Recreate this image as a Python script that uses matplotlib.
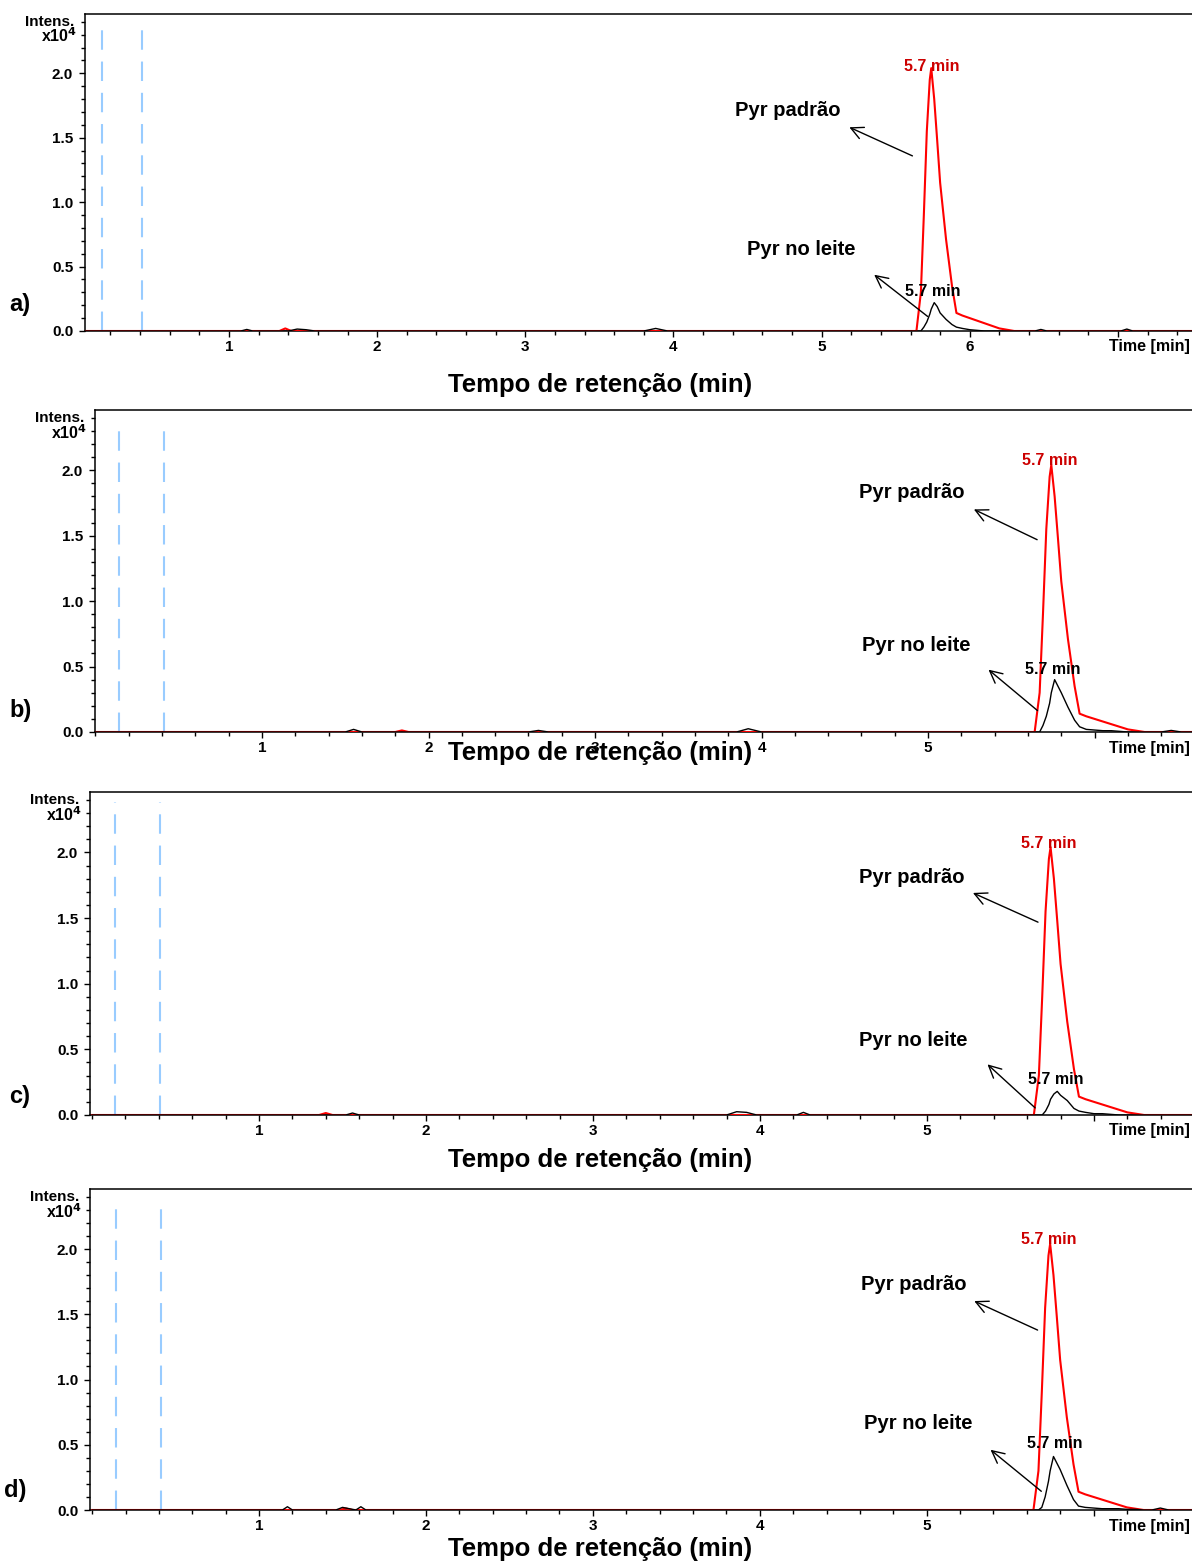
import matplotlib
matplotlib.use("Agg")
import matplotlib.pyplot as plt
from matplotlib.ticker import MultipleLocator, FixedLocator

plt.rcParams['font.family'] = ['Liberation Sans', 'DejaVu Sans']
plt.rcParams['font.weight'] = 'bold'
plt.rcParams['lines.scale_dashes'] = False

paineis = ["a)", "b)", "c)", "d)"]

# região do pico (min) e intensidades (x10^4)
t_pico = [5.60, 5.64, 5.67, 5.69, 5.71, 5.73, 5.74, 5.76, 5.78, 5.80, 5.84,
          5.88, 5.91, 5.95, 6.00, 6.05, 6.10, 6.15, 6.20, 6.25, 6.30]
padrao = [0, 0.0, 0.30, 0.90, 1.55, 1.95, 2.04, 1.80, 1.48, 1.15, 0.71,
          0.35, 0.14, 0.12, 0.10, 0.08, 0.06, 0.04, 0.02, 0.01, 0]
leite_a = [0, 0, 0, 0.03, 0.07, 0.13, 0.17, 0.22, 0.19, 0.14, 0.09,
           0.05, 0.03, 0.02, 0.01, 0.005, 0, 0, 0, 0, 0]
leite_b = [0, 0, 0, 0.05, 0.12, 0.22, 0.30, 0.40, 0.35, 0.30, 0.19,
           0.09, 0.04, 0.02, 0.015, 0.01, 0.01, 0.005, 0, 0, 0]
leite_c = [0, 0, 0, 0, 0.03, 0.08, 0.12, 0.16, 0.18, 0.15, 0.11,
           0.05, 0.03, 0.02, 0.01, 0.01, 0.005, 0, 0, 0, 0]
leite_d = [0, 0, 0, 0.02, 0.10, 0.22, 0.30, 0.41, 0.36, 0.31, 0.19,
           0.08, 0.03, 0.02, 0.015, 0.01, 0.01, 0.01, 0.005, 0.005, 0]

# linha de base (pequenos ruídos) fora do pico
base_t_preto = {
    "a)": [0.0, 1.08, 1.12, 1.16, 1.40, 1.46, 1.52, 1.58, 3.80, 3.88, 3.96, 6.44, 6.48, 6.52, 7.02, 7.06, 7.10, 7.5],
    "b)": [0.0, 1.50, 1.55, 1.60, 2.60, 2.66, 2.72, 3.85, 3.92, 4.00, 6.40, 6.46, 6.52, 6.6],
    "c)": [0.0, 1.52, 1.56, 1.60, 3.80, 3.86, 3.92, 3.98, 4.22, 4.26, 4.30, 6.6],
    "d)": [0.0, 1.14, 1.17, 1.20, 1.46, 1.50, 1.54, 1.58, 1.61, 1.64, 6.35, 6.40, 6.45, 6.6],
}
base_i_preto = {
    "a)": [0, 0, 0.012, 0, 0, 0.015, 0.01, 0, 0, 0.02, 0, 0, 0.012, 0, 0, 0.015, 0, 0],
    "b)": [0, 0, 0.02, 0, 0, 0.012, 0, 0, 0.025, 0, 0, 0.012, 0, 0],
    "c)": [0, 0, 0.015, 0, 0, 0.025, 0.02, 0, 0, 0.02, 0, 0],
    "d)": [0, 0, 0.025, 0, 0, 0.02, 0.01, 0, 0.025, 0, 0, 0.015, 0, 0],
}
base_t_verm = {
    "a)": [0.0, 1.34, 1.38, 1.42, 7.5],
    "b)": [0.0, 1.80, 1.84, 1.88, 6.6],
    "c)": [0.0, 1.36, 1.40, 1.44, 6.6],
    "d)": [0.0, 1.48, 1.52, 1.56, 6.6],
}
base_i_verm = {
    "a)": [0, 0, 0.02, 0, 0],
    "b)": [0, 0, 0.012, 0, 0],
    "c)": [0, 0, 0.015, 0, 0],
    "d)": [0, 0, 0.012, 0, 0],
}
leites = {"a)": leite_a, "b)": leite_b, "c)": leite_c, "d)": leite_d}
ultimo_rotulo = {"a)": 6, "b)": 5, "c)": 5, "d)": 5}  # último número mostrado no eixo x

# ---- layout (pixels da imagem de referência) ----
W, H = 1192, 1564
caixas = {  # esquerda, topo, base (px)
    "a)": (85, 14, 331),
    "b)": (95, 410, 732),
    "c)": (90, 792, 1115),
    "d)": (90, 1189, 1510),
}
xlims = {"a)": (0.028, 7.50), "b)": (-0.003, 6.585), "c)": (-0.012, 6.587), "d)": (-0.013, 6.59)}
rotulos_y = {"a)": 305, "b)": 711, "c)": 1096, "d)": 1490}
rotulos_x = {"a)": 9, "b)": 9, "c)": 9, "d)": 4}
xlabel_y = {"a)": 385, "b)": 753, "c)": 1160, "d)": 1549}
time_y = {"a)": 347, "b)": 748, "c)": 1131, "d)": 1526}
# posições dos textos/setas (dados)
anot = {
    "a)": dict(pad=(4.77, 1.71), pad_seta=((5.63, 1.35), (5.17, 1.59)),
               lei=(4.86, 0.63), lei_seta=((5.73, 0.10), (5.34, 0.45)),
               verm=(5.74, 2.055), preto=(5.75, 0.31)),
    "b)": dict(pad=(4.90, 1.83), pad_seta=((5.67, 1.46), (5.26, 1.71)),
               lei=(4.93, 0.66), lei_seta=((5.67, 0.15), (5.35, 0.49)),
               verm=(5.73, 2.075), preto=(5.75, 0.48)),
    "c)": dict(pad=(4.91, 1.81), pad_seta=((5.68, 1.46), (5.26, 1.70)),
               lei=(4.92, 0.57), lei_seta=((5.66, 0.04), (5.35, 0.40)),
               verm=(5.73, 2.07), preto=(5.77, 0.27)),
    "d)": dict(pad=(4.92, 1.73), pad_seta=((5.68, 1.37), (5.27, 1.61)),
               lei=(4.95, 0.66), lei_seta=((5.70, 0.13), (5.37, 0.475)),
               verm=(5.73, 2.07), preto=(5.77, 0.51)),
}


def serie(bt, bi, tp, ip):
    # junta linha de base e pico em ordem de tempo
    t = [x for x in bt if x < tp[0]] + list(tp) + [x for x in bt if x > tp[-1]]
    i = [y for x, y in zip(bt, bi) if x < tp[0]] + list(ip) + [y for x, y in zip(bt, bi) if x > tp[-1]]
    return t, i


fig = plt.figure(figsize=(W / 100, H / 100), dpi=100)

for p in paineis:
    esq, topo, base = caixas[p]
    ax = fig.add_axes([esq / W, 1 - base / H, 1 - esq / W, (base - topo) / H])

    tv, iv = serie(base_t_verm[p], base_i_verm[p], t_pico, padrao)
    tb, ib = serie(base_t_preto[p], base_i_preto[p], t_pico, leites[p])
    ax.plot(tv, iv, color='#ff0000', lw=1.5, zorder=3)
    ax.plot(tb, ib, color='black', lw=1.0, zorder=4)

    for xv in [0.14, 0.41]:
        ax.axvline(xv, color='#99ccff', lw=1.5, dashes=(14, 8.5), ymin=0, ymax=0.97, zorder=1)

    ax.set_xlim(*xlims[p])
    ax.set_ylim(0, 2.46)
    ax.spines['right'].set_visible(False)
    for s in ['left', 'bottom', 'top']:
        ax.spines[s].set_linewidth(1.1)

    xt = [v for v in range(1, 8) if v < xlims[p][1]]
    ax.set_xticks(xt)
    ax.set_xticklabels([str(v) if v <= ultimo_rotulo[p] else "" for v in xt])
    ax.xaxis.set_minor_locator(MultipleLocator(0.2))
    ax.yaxis.set_major_locator(FixedLocator([0.0, 0.5, 1.0, 1.5, 2.0]))
    ax.yaxis.set_minor_locator(MultipleLocator(0.1))
    ax.set_yticklabels(["0.0", "0.5", "1.0", "1.5", "2.0"])
    ax.tick_params(axis='both', which='major', direction='out', length=4.5, width=1.0)
    ax.tick_params(axis='both', which='minor', direction='out', length=3, width=1.0)
    ax.tick_params(axis='y', pad=4, labelsize=11)
    ax.tick_params(axis='x', pad=2, labelsize=11)
    for lb in ax.get_xticklabels() + ax.get_yticklabels():
        lb.set_fontweight('bold')

    ax.annotate("Intens.", xy=(0, 2.4), xycoords=('axes fraction', 'data'),
                xytext=(-8, 0), textcoords='offset points', ha='right', va='center',
                fontsize=11, fontweight='bold')
    ax.annotate(r"x10$^\mathbf{4}$", xy=(0, 2.29), xycoords=('axes fraction', 'data'),
                xytext=(-6, 0), textcoords='offset points', ha='right', va='center',
                fontsize=11.5, fontweight='bold')

    a = anot[p]
    ax.text(*a['pad'], "Pyr padrão", ha='center', va='center', fontsize=14.5, fontweight='bold')
    ax.text(*a['lei'], "Pyr no leite", ha='center', va='center', fontsize=14.5, fontweight='bold')
    ax.annotate("", xy=a['pad_seta'][1], xytext=a['pad_seta'][0],
                arrowprops=dict(arrowstyle='->', lw=1.0, color='black', mutation_scale=22))
    ax.annotate("", xy=a['lei_seta'][1], xytext=a['lei_seta'][0],
                arrowprops=dict(arrowstyle='->', lw=1.0, color='black', mutation_scale=22))
    ax.text(*a['verm'], "5.7 min", ha='center', va='center', fontsize=11.5,
            fontweight='bold', color='#cc0000', zorder=6)
    ax.text(*a['preto'], "5.7 min", ha='center', va='center', fontsize=11.5,
            fontweight='bold', color='black', zorder=6)

    fig.text(rotulos_x[p] / W, 1 - rotulos_y[p] / H, p, ha='left', va='center',
             fontsize=17, fontweight='bold')
    fig.text(600 / W, 1 - xlabel_y[p] / H, "Tempo de retenção (min)", ha='center',
             va='center', fontsize=18.5, fontweight='bold')
    fig.text(1190 / W, 1 - time_y[p] / H, "Time [min]", ha='right', va='center',
             fontsize=11.5, fontweight='bold')

fig.savefig("out.png", dpi=100)
